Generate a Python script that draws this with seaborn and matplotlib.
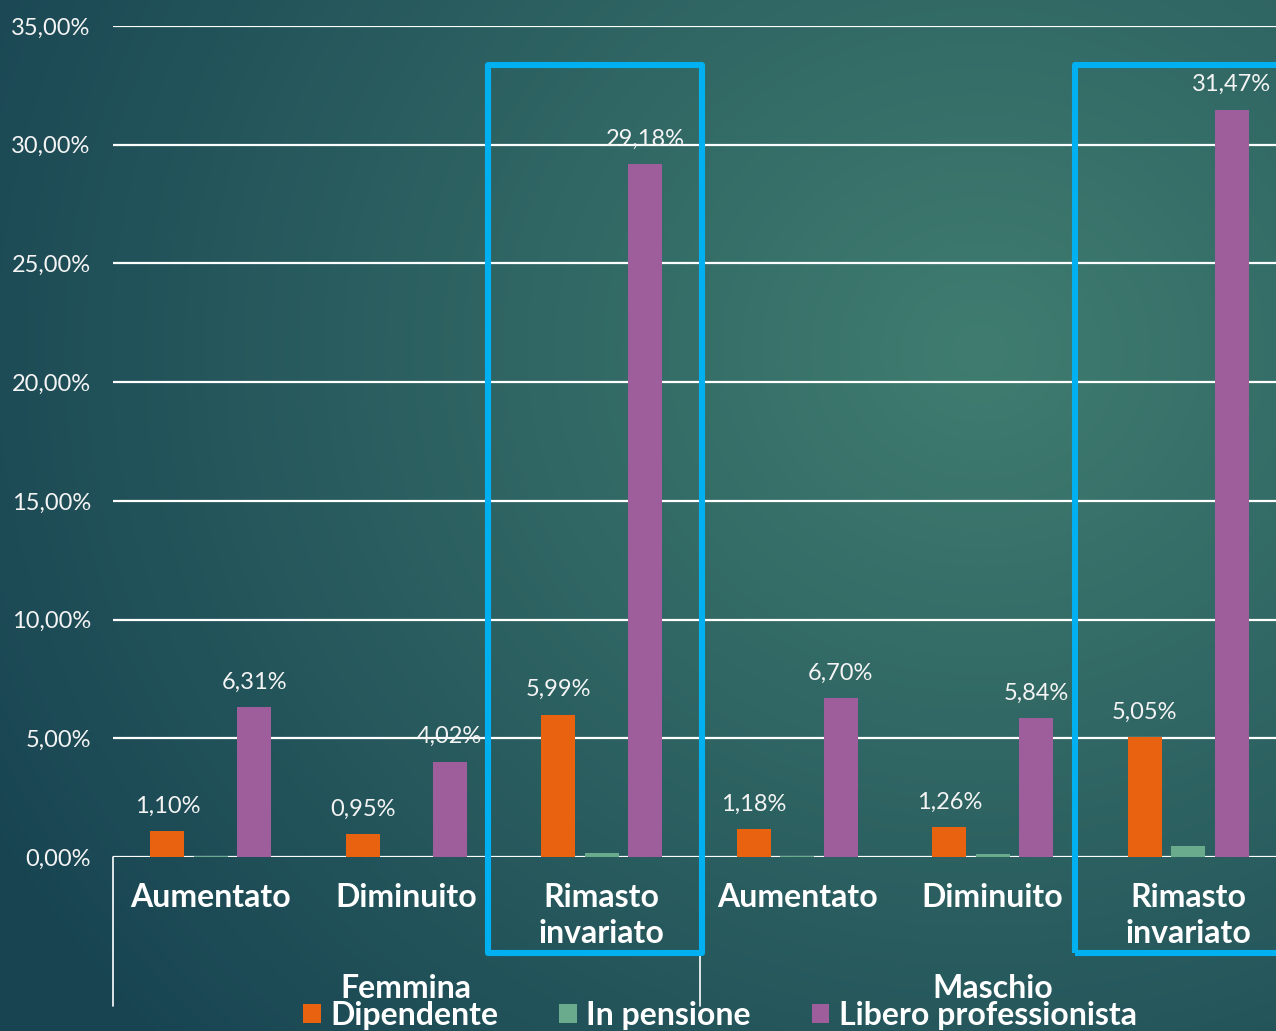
import numpy as np
import pandas as pd
import matplotlib
matplotlib.use("Agg")
import matplotlib.pyplot as plt
import matplotlib.transforms as mtransforms
from matplotlib.patches import Rectangle
from matplotlib.lines import Line2D
import seaborn as sns

# ---- data -------------------------------------------------------------
genders = ["Femmina", "Maschio"]
statuses = ["Aumentato", "Diminuito", "Rimasto\ninvariato"]
series = ["Dipendente", "In pensione", "Libero professionista"]

dipendente = [1.10, 0.95, 5.99, 1.18, 1.26, 5.05]
in_pensione = [0.04, 0.00, 0.15, 0.04, 0.13, 0.45]
libero_prof = [6.31, 4.02, 29.18, 6.70, 5.84, 31.47]

y_ticks = [0, 5, 10, 15, 20, 25, 30, 35]
colors = ["#E8620F", "#6AAB8E", "#9E5E9B"]

# ---- long table -------------------------------------------------------
keys = [f"{g}|{s}" for g in genders for s in statuses]
rows = []
for name, vals in zip(series, [dipendente, in_pensione, libero_prof]):
    for k, v in zip(keys, vals):
        rows.append({"cat": k, "serie": name, "valore": v})
df = pd.DataFrame(rows)

sns.set_theme(style="white")
plt.rcParams["font.family"] = ["Lato", "DejaVu Sans"]

W, H = 1276, 1031
fig = plt.figure(figsize=(W / 100, H / 100), dpi=100)

# background gradient
bg = fig.add_axes([0, 0, 1, 1], zorder=0)
yy, xx = np.mgrid[0:H, 0:W]
d = np.sqrt(((xx - 980) / 1.05) ** 2 + ((yy - 350) / 0.95) ** 2)
t = np.clip(d / 1080, 0, 1)[..., None]
c0 = np.array([0x40, 0x7d, 0x70]) / 255
c1 = np.array([0x18, 0x44, 0x52]) / 255
img = c0 * (1 - t) + c1 * t
bg.imshow(img, aspect="auto", extent=[0, 1, 0, 1], origin="upper")
bg.set_axis_off()

# main axes (right edge runs slightly past the figure)
def fx(px):
    return px / W

def fy(py):
    return 1 - py / H

left, right, top, bottom = 113, 1286, 26, 857
ax = fig.add_axes([fx(left), fy(bottom), fx(right - left), fy(top) - fy(bottom)], zorder=1)
ax.set_facecolor("none")

sns.barplot(data=df, x="cat", y="valore", hue="serie", order=keys,
            hue_order=series, palette=colors, width=0.666, gap=0.22,
            saturation=1, ax=ax, legend=True, zorder=3, linewidth=0,
            edgecolor="none")

ax.set_xlim(-0.5, 5.5)
ax.set_ylim(0, 35)
ax.set_yticks(y_ticks)
ax.set_yticklabels([f"{v:.2f}".replace(".", ",") + "%" for v in y_ticks],
                   fontsize=17, color="#f4f4f4")
ax.tick_params(axis="y", length=0, pad=16)
ax.set_xticks([])
ax.set_xlabel("")
ax.set_ylabel("")
for s in ax.spines.values():
    s.set_visible(False)
for v in y_ticks:
    ax.axhline(v, color="white", lw=1.6, zorder=2)

# value labels (orange and purple series)
offsets = [-0.222, 0.0, 0.222]
for si, vals in [(0, dipendente), (2, libero_prof)]:
    for i, v in enumerate(vals):
        ax.annotate(f"{v:.2f}".replace(".", ",") + "%", (i + offsets[si], v),
                    xytext=(0, 25), textcoords="offset pixels",
                    ha="center", va="center", fontsize=17,
                    color="#f4f4f4", zorder=6)

# hierarchical category labels
tr = mtransforms.blended_transform_factory(ax.transData, fig.transFigure)
for i, k in enumerate(keys):
    lab = k.split("|")[1]
    ax.text(i, fy(883), lab, transform=tr, ha="center", va="top",
            fontsize=23, fontweight="bold", color="white",
            linespacing=1.3, clip_on=False)
for gi, g in enumerate(genders):
    ax.text(1 + 3 * gi, fy(988), g, transform=tr, ha="center", va="center",
            fontsize=23, fontweight="bold", color="white", clip_on=False)
for xv in [-0.5, 2.5]:
    ax.add_line(Line2D([xv, xv], [fy(857), fy(1006)], transform=tr,
                       color="white", lw=1.2, clip_on=False, zorder=4))

# highlight boxes around "Rimasto invariato"
for x0 in [1.418, 4.42]:
    ax.add_patch(Rectangle((x0, fy(953)), 1.095, fy(65) - fy(953),
                           transform=tr, fill=False, ec="#00B0F0", lw=4.4,
                           clip_on=False, zorder=5, joinstyle="round"))

# legend
handles, labels = ax.get_legend_handles_labels()
for h in handles:
    h.set_edgecolor("none")
    h.set_linewidth(0)
leg = fig.legend(handles, labels, loc="center", bbox_to_anchor=(fx(720), fy(1015)),
                 ncol=3, frameon=False, fontsize=23, handlelength=0.55,
                 handleheight=0.55, handletextpad=0.3, columnspacing=1.9,
                 borderaxespad=0, borderpad=0)
for txt in leg.get_texts():
    txt.set_color("white")
    txt.set_fontweight("bold")
ax.get_legend().remove()

fig.savefig("out.png", dpi=100)
